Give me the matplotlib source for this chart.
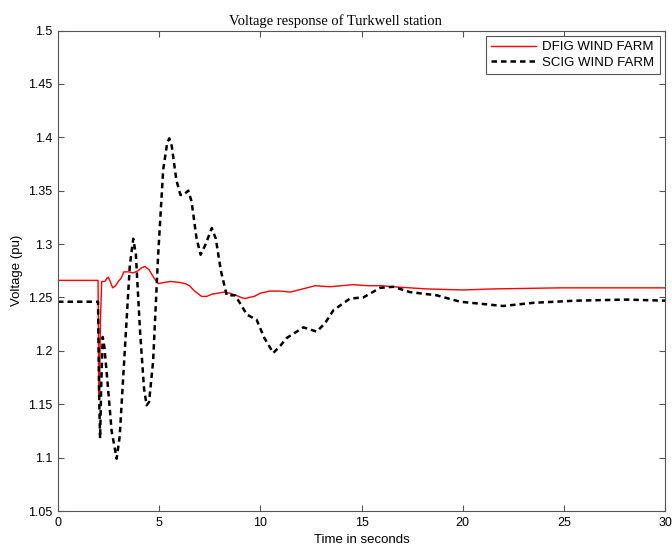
import matplotlib.pyplot as plt

# DFIG wind farm voltage (pu)
t_dfig = [0, 1.98, 2.02, 2.05, 2.10, 2.16, 2.32, 2.42, 2.49, 2.58, 2.70, 2.85, 2.98, 3.12,
          3.26, 3.50, 3.72, 3.95, 4.15, 4.30, 4.50, 4.75, 4.96, 5.25, 5.54, 6.03, 6.28,
          6.50, 6.75, 7.10, 7.35, 7.60, 7.90, 8.20, 8.50, 8.80, 9.05, 9.24, 9.45, 9.70,
          10.0, 10.48, 11.0, 11.47, 12.10, 12.70, 13.45, 14.00, 14.58, 15.30, 16.00,
          16.56, 17.40, 18.22, 20.02, 21.5, 24.8, 27.0, 30.0]
v_dfig = [1.266, 1.266, 1.16, 1.157, 1.23, 1.265, 1.265, 1.268, 1.269, 1.265, 1.259, 1.261,
          1.265, 1.268, 1.274, 1.274, 1.273, 1.275, 1.278, 1.279, 1.276, 1.268, 1.263, 1.264,
          1.265, 1.264, 1.263, 1.261, 1.256, 1.251, 1.251, 1.253, 1.254, 1.255, 1.254, 1.252,
          1.250, 1.249, 1.250, 1.251, 1.254, 1.256, 1.256, 1.255, 1.258, 1.261, 1.260, 1.261,
          1.262, 1.261, 1.261, 1.260, 1.259, 1.258, 1.257, 1.258, 1.259, 1.259, 1.259]

# SCIG wind farm voltage (pu)
t_scig = [0, 1.98, 2.03, 2.08, 2.14, 2.21, 2.29, 2.45, 2.65, 2.90, 3.05, 3.30,
          3.55, 3.72, 3.85, 4.05, 4.25, 4.38, 4.50, 4.70, 4.95, 5.20, 5.40, 5.50,
          5.62, 5.85, 6.05, 6.19, 6.44, 6.60, 6.85, 7.05, 7.30, 7.60, 7.80, 8.05,
          8.34, 8.75, 9.05, 9.33, 9.82, 10.20, 10.64, 11.0, 11.3, 12.13, 12.79, 13.2,
          13.61, 14.43, 15.09, 15.92, 16.57, 17.4, 18.72, 19.87, 22.0, 23.5, 25.6,
          28.1, 30.0]
v_scig = [1.246, 1.246, 1.16, 1.118, 1.17, 1.213, 1.204, 1.170, 1.125, 1.099, 1.120, 1.200,
          1.280, 1.305, 1.290, 1.220, 1.165, 1.149, 1.152, 1.190, 1.290, 1.370, 1.395, 1.399,
          1.392, 1.360, 1.346, 1.346, 1.350, 1.340, 1.305, 1.290, 1.300, 1.315, 1.305, 1.275,
          1.252, 1.252, 1.243, 1.234, 1.229, 1.212, 1.198, 1.205, 1.212, 1.222, 1.218, 1.226,
          1.238, 1.249, 1.250, 1.259, 1.260, 1.255, 1.252, 1.246, 1.242, 1.245, 1.247,
          1.248, 1.247]

x_ticks = [0, 5, 10, 15, 20, 25, 30]
y_ticks = [1.05, 1.1, 1.15, 1.2, 1.25, 1.3, 1.35, 1.4, 1.45, 1.5]

plt.rcParams['font.family'] = ['Liberation Sans', 'DejaVu Sans']

fig = plt.figure(figsize=(6.72, 5.48), dpi=100)
ax = fig.add_axes([0.0863, 0.0675, 0.9033, 0.8768])

ax.plot(t_dfig, v_dfig, color='red', lw=1.0, label='DFIG WIND FARM')
ax.plot(t_scig, v_scig, color='black', lw=1.8, ls=(0, (2.2, 1.6)), label='SCIG WIND FARM')

ax.set_xlim(0, 30)
ax.set_ylim(1.05, 1.5)
ax.set_xticks(x_ticks)
ax.set_yticks(y_ticks)
ax.set_yticklabels([('%g' % v) for v in y_ticks])
ax.tick_params(direction='in', top=True, right=True, labelsize=9, length=4,
               color='#555555', pad=4)
for s in ax.spines.values():
    s.set_color('#555555')

ax.set_xlabel('Time in seconds', fontsize=9.5, labelpad=4)
ax.set_ylabel('Voltage (pu)', fontsize=9.5, labelpad=4)
ax.set_title('Voltage response of Turkwell station', fontsize=10.5,
             family='Liberation Serif', pad=4, x=0.457)

leg = ax.legend(loc='upper right', fontsize=9.5, fancybox=False, framealpha=1,
                edgecolor='#555555', handlelength=3.4, borderpad=0.4,
                labelspacing=0.25, handletextpad=0.5, borderaxespad=0.4)
leg.get_frame().set_linewidth(0.8)

fig.savefig('out.png', dpi=100)
